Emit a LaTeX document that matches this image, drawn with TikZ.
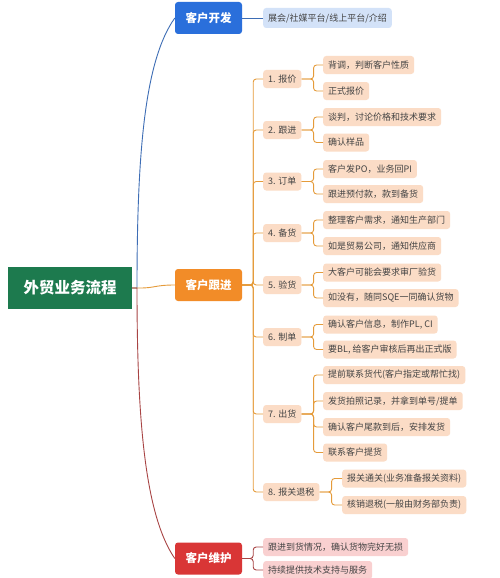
\documentclass[tikz,border=0pt]{standalone}
\usepackage{fontspec}
\setmainfont{Noto Sans CJK SC}
\definecolor{rootg}{HTML}{1D7A4E}
\definecolor{blue1}{HTML}{2A6FDB}
\definecolor{blueleaf}{HTML}{D3E2F8}
\definecolor{bluecon}{HTML}{3D6DB5}
\definecolor{orange1}{HTML}{F28C28}
\definecolor{peach}{HTML}{FBDCC6}
\definecolor{orcon}{HTML}{E59B3A}
\definecolor{red1}{HTML}{D93636}
\definecolor{pink}{HTML}{F9D0D0}
\definecolor{redcon}{HTML}{A84444}
\definecolor{txt}{HTML}{444444}
\tikzset{
  lvone/.style={rounded corners=3pt, minimum width=67pt, minimum height=32pt, text=white, inner sep=0pt, font=\fontsize{11.5}{12}\selectfont\bfseries},
  box/.style={rounded corners=3pt, anchor=west, minimum height=18pt, inner xsep=5pt, inner ysep=0pt, text=txt, font=\fontsize{9}{10}\selectfont},
  stepbox/.style={box, fill=peach},
  leafbox/.style={box, fill=peach},
  bleaf/.style={box, fill=blueleaf, minimum height=20pt},
  pleaf/.style={box, fill=pink},
  ocon/.style={draw=orcon, line width=0.9pt, rounded corners=3pt},
  rcon/.style={draw=redcon, line width=0.9pt},
  rbr/.style={rcon, rounded corners=3pt},
  bcon/.style={draw=bluecon, line width=0.9pt},
}
\begin{document}
\begin{tikzpicture}[x=1pt,y=-1pt]
\useasboundingbox[fill=white] (0,0) rectangle (500,578);
% root
\node[fill=rootg, minimum width=124pt, minimum height=42pt, inner sep=0pt, text=white, font=\fontsize{15.5}{16}\selectfont\bfseries] (root) at (70,288) {外贸业务流程};
% level 1
\node[lvone, fill=blue1] (kf) at (208.5,18) {客户开发};
\node[lvone, fill=orange1] (gj) at (208.5,285) {客户跟进};
\node[lvone, fill=red1] (wh) at (208.5,558.5) {客户维护};
\coordinate (j) at (137,288);
% root connectors
\draw[bcon] (root.east) -- (j) .. controls (137,150) and (145,60) .. (kf.west);
\draw[ocon] (root.east) -- (j) .. controls (155,288) and (155,285) .. (gj.west);
\draw[rcon] (root.east) -- (j) .. controls (137,420) and (145,515) .. (wh.west);
% blue leaf
\node[bleaf] (kf1) at (263,18) {展会/社媒平台/线上平台/介绍};
\draw[bcon] (kf.east) -- (kf1.west);
% orange steps
\node[stepbox] (s1) at (263,79) {1. 报价};
\node[stepbox] (s2) at (263,130) {2. 跟进};
\node[stepbox] (s3) at (263,181.5) {3. 订单};
\node[stepbox] (s4) at (263,233) {4. 备货};
\node[stepbox] (s5) at (263,285) {5. 验货};
\node[stepbox] (s6) at (263,337) {6. 制单};
\node[stepbox] (s7) at (263,414) {7. 出货};
\node[stepbox] (s8) at (263,492) {8. 报关退税};
\foreach \s in {s1,s2,s3,s4,s5,s6,s7,s8}
  \draw[ocon] (gj.east) -- ++(11,0) |- (\s.west);
% leaves
\node[leafbox] (a1) at (323,65) {背调，判断客户性质};
\node[leafbox] (b1) at (323,91) {正式报价};
\node[leafbox] (a2) at (323,117) {谈判，讨论价格和技术要求};
\node[leafbox] (b2) at (323,142.5) {确认样品};
\node[leafbox] (a3) at (323,169) {客户发PO，业务回PI};
\node[leafbox] (b3) at (323,194) {跟进预付款，款到备货};
\node[leafbox] (a4) at (323,220) {整理客户需求，通知生产部门};
\node[leafbox] (b4) at (323,246) {如是贸易公司，通知供应商};
\node[leafbox] (a5) at (323,272.5) {大客户可能会要求审厂验货};
\node[leafbox] (b5) at (323,298) {如没有，随同SQE一同确认货物};
\node[leafbox] (a6) at (323,324.5) {确认客户信息，制作PL, CI};
\node[leafbox] (b6) at (323,349.5) {要BL, 给客户审核后再出正式版};
\node[leafbox] (a7) at (323,375) {提前联系货代(客户指定或帮忙找)};
\node[leafbox] (b7) at (323,401) {发货拍照记录，并拿到单号/提单};
\node[leafbox] (c7) at (323,427) {确认客户尾款到后，安排发货};
\node[leafbox] (d7) at (323,452.5) {联系客户提货};
\node[leafbox] (a8) at (342,478.5) {报关通关(业务准备报关资料)};
\node[leafbox] (b8) at (342,505) {核销退税(一般由财务部负责)};
\foreach \p/\c in {s1/a1,s1/b1,s2/a2,s2/b2,s3/a3,s3/b3,s4/a4,s4/b4,s5/a5,s5/b5,s6/a6,s6/b6,s7/a7,s7/b7,s7/c7,s7/d7,s8/a8,s8/b8}
  \draw[ocon] (\p.east) -- ++(12,0) |- (\c.west);
% red leaves
\node[pleaf] (r1) at (263,547) {跟进到货情况，确认货物完好无损};
\node[pleaf] (r2) at (263,570) {持续提供技术支持与服务};
\foreach \c in {r1,r2}
  \draw[rbr] (wh.east) -- ++(11,0) |- (\c.west);
\end{tikzpicture}
\end{document}
